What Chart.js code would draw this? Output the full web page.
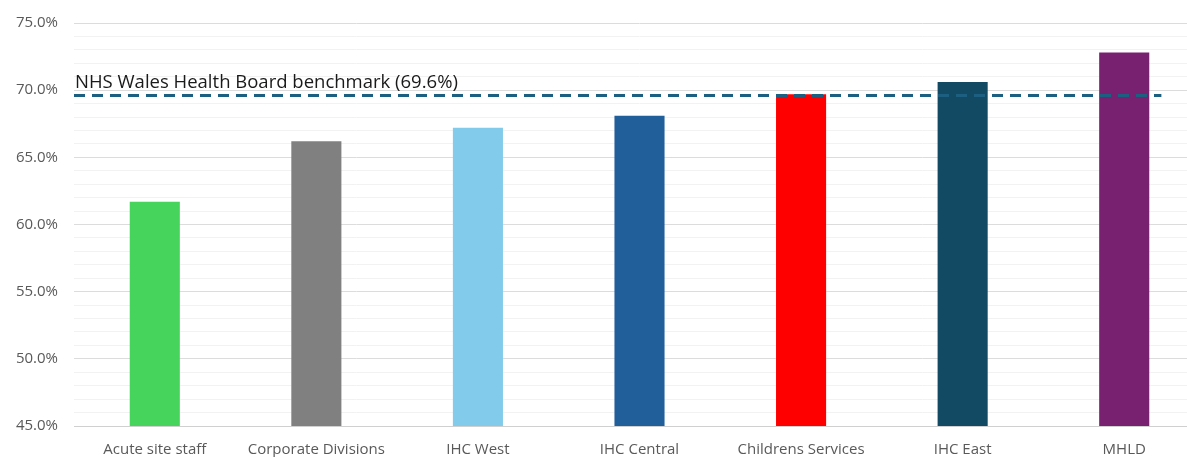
<!DOCTYPE html>
<html>
<head>
<meta charset="utf-8">
<script src="https://cdn.jsdelivr.net/npm/chart.js@4/dist/chart.umd.min.js"></script>
<style>
  html, body { margin: 0; padding: 0; background: #fff; overflow: hidden; }
  #wrap { width: 1205px; height: 457px; position: relative; }
</style>
</head>
<body>
<div id="wrap"><canvas id="chart"></canvas></div>
<script>
// Staff survey response rate by division
const categories = ['Acute site staff', 'Corporate Divisions', 'IHC West', 'IHC Central', 'Childrens Services', 'IHC East', 'MHLD'];
const responseRates = [61.7, 66.2, 67.2, 68.1, 69.7, 70.6, 72.8];
const barColours = ['#46D45C', '#808080', '#83CBEB', '#215F9A', '#FF0000', '#124963', '#782170'];
const benchmarkValue = 69.6;
const benchmarkLabel = 'NHS Wales Health Board benchmark (69.6%)';
const yMin = 45, yMax = 75;

// Dashed benchmark line with its caption, placed via the chart's own scales
const benchmarkPlugin = {
  id: 'benchmark',
  afterDatasetsDraw(chart) {
    const { ctx, chartArea, scales } = chart;
    const y = scales.y.getPixelForValue(benchmarkValue);
    const last = scales.x.getPixelForValue(categories.length - 1);
    const step = scales.x.getPixelForValue(1) - scales.x.getPixelForValue(0);
    ctx.save();
    ctx.strokeStyle = '#1D5F80';
    ctx.lineWidth = 3;
    ctx.setLineDash([11, 7]);
    ctx.beginPath();
    ctx.moveTo(chartArea.left, y);
    ctx.lineTo(last + step * 0.23, y);
    ctx.stroke();
    ctx.setLineDash([]);
    ctx.fillStyle = '#1a1a1a';
    ctx.font = '18.5px "Open Sans", sans-serif';
    ctx.textBaseline = 'alphabetic';
    ctx.textAlign = 'left';
    ctx.fillText(benchmarkLabel, chartArea.left + 1, y - 8);
    ctx.restore();
  }
};

new Chart(document.getElementById('chart'), {
  type: 'bar',
  data: {
    labels: categories,
    datasets: [{
      data: responseRates,
      backgroundColor: barColours,
      borderWidth: 0,
      barPercentage: 0.31,
      categoryPercentage: 1
    }]
  },
  options: {
    responsive: true,
    maintainAspectRatio: false,
    animation: false,
    layout: { padding: { top: 23, right: 0, bottom: 0, left: 0 } },
    plugins: { legend: { display: false }, tooltip: { enabled: false } },
    scales: {
      x: {
        grid: { display: false, drawTicks: false },
        border: { color: '#D0D0D0', width: 1 },
        ticks: {
          color: '#595959',
          font: { family: '"Open Sans", sans-serif', size: 15 },
          padding: 15,
          maxRotation: 0,
          autoSkip: false
        },
        afterFit(axis) { axis.height = 31; axis.paddingLeft = 0; axis.paddingRight = 0; }
      },
      y: {
        min: yMin,
        max: yMax,
        border: { display: false },
        grid: {
          drawTicks: false,
          color: (c) => (c.tick && c.tick.value % 5 === 0) ? '#DCDCDC' : '#F2F2F2',
          lineWidth: 1
        },
        ticks: {
          stepSize: 1,
          autoSkip: false,
          color: '#595959',
          font: { family: '"Open Sans", sans-serif', size: 15 },
          padding: 16,
          callback: (v) => (v % 5 === 0 ? v.toFixed(1) + '%' : '')
        },
        afterFit(axis) { axis.width = 74; axis.paddingTop = 0; axis.paddingBottom = 0; }
      }
    }
  },
  plugins: [benchmarkPlugin]
});
</script>
</body>
</html>
